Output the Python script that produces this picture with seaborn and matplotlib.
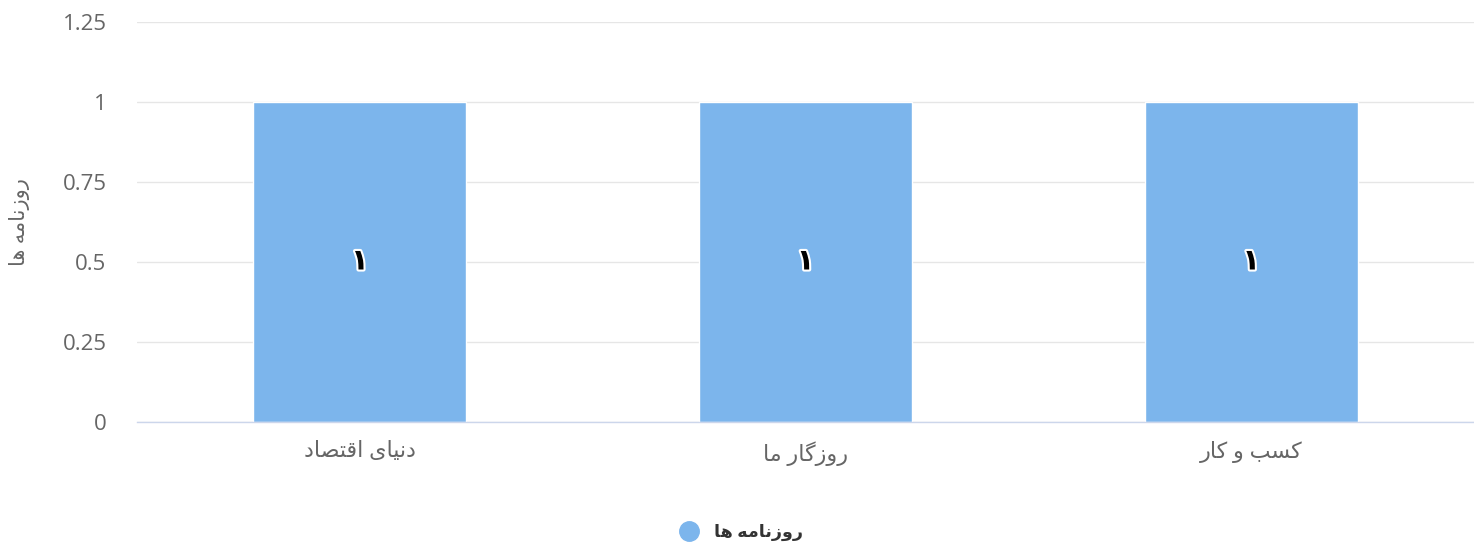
import matplotlib.pyplot as plt
import matplotlib.patheffects as pe
from matplotlib.lines import Line2D
import pandas as pd
import seaborn as sns

categories = ['دنیای اقتصاد', 'روزگار ما', 'کسب و کار']
values = [1, 1, 1]
value_labels = ['۱', '۱', '۱']
series_name = 'روزنامه ها'
y_ticks = [0, 0.25, 0.5, 0.75, 1, 1.25]
y_tick_labels = ['0', '0.25', '0.5', '0.75', '1', '1.25']

BAR_COLOR = '#7cb5ec'

# matplotlib has no text shaping, so pick the Arabic presentation forms by hand
# (iso, fin, init, med); letters with only two forms join on the right only
FORMS = {
    'ا': ('\uFE8D', '\uFE8E'),
    'د': ('\uFEA9', '\uFEAA'),
    'ر': ('\uFEAD', '\uFEAE'),
    'ز': ('\uFEAF', '\uFEB0'),
    'و': ('\uFEED', '\uFEEE'),
    'ب': ('\uFE8F', '\uFE90', '\uFE91', '\uFE92'),
    'ت': ('\uFE95', '\uFE96', '\uFE97', '\uFE98'),
    'س': ('\uFEB1', '\uFEB2', '\uFEB3', '\uFEB4'),
    'ص': ('\uFEB9', '\uFEBA', '\uFEBB', '\uFEBC'),
    'ق': ('\uFED5', '\uFED6', '\uFED7', '\uFED8'),
    'م': ('\uFEE1', '\uFEE2', '\uFEE3', '\uFEE4'),
    'ن': ('\uFEE5', '\uFEE6', '\uFEE7', '\uFEE8'),
    'ه': ('\uFEE9', '\uFEEA', '\uFEEB', '\uFEEC'),
    'ک': ('\uFB8E', '\uFB8F', '\uFB90', '\uFB91'),
    'گ': ('\uFB92', '\uFB93', '\uFB94', '\uFB95'),
    'ی': ('\uFBFC', '\uFBFD', '\uFBFE', '\uFBFF'),
}


def shape(text):
    out = []
    for i, ch in enumerate(text):
        if ch not in FORMS:
            out.append(ch)
            continue
        prev = text[i - 1] if i > 0 else ''
        nxt = text[i + 1] if i + 1 < len(text) else ''
        join_prev = prev in FORMS and len(FORMS[prev]) == 4
        join_next = len(FORMS[ch]) == 4 and nxt in FORMS
        f = FORMS[ch]
        if join_prev and join_next:
            out.append(f[3])
        elif join_prev:
            out.append(f[1])
        elif join_next:
            out.append(f[2])
        else:
            out.append(f[0])
    return ''.join(out)[::-1]


sns.set_theme(style='white')
plt.rcParams['font.family'] = ['Open Sans', 'DejaVu Sans']

fig = plt.figure(figsize=(14.74, 5.48), dpi=100)
ax = fig.add_axes([137 / 1474, 1 - 422 / 548, 1 - 137 / 1474, 400 / 548])

df = pd.DataFrame({'paper': [shape(c) for c in categories], 'count': values})
sns.barplot(data=df, x='paper', y='count', color=BAR_COLOR, saturation=1,
            width=0.478, ax=ax)

for cont in ax.containers:
    ax.bar_label(cont, labels=value_labels, label_type='center', fontsize=21,
                 fontweight='bold', color='black',
                 path_effects=[pe.withStroke(linewidth=3, foreground='white')])

ax.set_xlim(-0.5, 2.5)
ax.set_ylim(0, 1.25)
ax.set_yticks(y_ticks)
ax.set_yticklabels(y_tick_labels)
ax.set_axisbelow(True)
ax.yaxis.grid(True, color='#e6e6e6', lw=1)
ax.set_xlabel('')
ax.set_ylabel('')
for side in ['top', 'left', 'right']:
    ax.spines[side].set_visible(False)
ax.spines['bottom'].set_color('#ccd6eb')
ax.spines['bottom'].set_linewidth(1)
ax.tick_params(axis='x', length=0, pad=14, labelsize=16, colors='#666666')
ax.tick_params(axis='y', length=0, pad=22, labelsize=16, colors='#666666')

fig.text(20 / 1474, 1 - 222 / 548, shape(series_name), rotation=90,
         ha='center', va='center', fontsize=15, color='#666666')

handle = Line2D([], [], marker='o', color=BAR_COLOR, ls='', markersize=14)
leg = fig.legend(handles=[handle], labels=[shape(series_name)], loc='center',
                 bbox_to_anchor=(0.5, 1 - 532 / 548), frameon=False,
                 prop={'weight': 'bold', 'size': 12.6}, handletextpad=0.4)
for t in leg.get_texts():
    t.set_color('#333333')

fig.savefig('out.png', dpi=100)
